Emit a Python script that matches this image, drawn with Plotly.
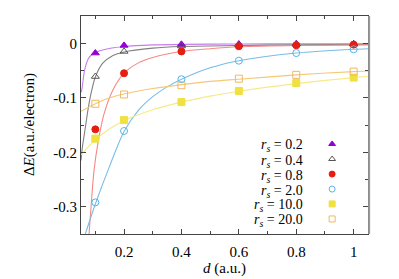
import plotly.graph_objects as go

# ---- data ----
d_points = [0.1, 0.2, 0.4, 0.6, 0.8, 1.0]
rs_labels = ["0.2", "0.4", "0.8", "2.0", "10.0", "20.0"]

dE_rs02 = [-0.018, -0.004, -0.002, -0.0015, -0.001, -0.001]
dE_rs04 = [-0.061, -0.015, -0.005, -0.003, -0.002, -0.002]
dE_rs08 = [-0.158, -0.055, -0.015, -0.0055, -0.0037, -0.0025]
dE_rs20 = [-0.292, -0.161, -0.066, -0.032, -0.018, -0.011]
dE_rs100 = [-0.175, -0.141, -0.108, -0.0875, -0.073, -0.063]
dE_rs200 = [-0.111, -0.094, -0.077, -0.065, -0.058, -0.052]

# fitted curves
fit02_d = [0.051, 0.055, 0.06, 0.065, 0.075, 0.085, 0.1, 0.136, 0.2, 0.3, 0.4, 0.6, 0.8, 1.05]
fit02_E = [-0.090, -0.078, -0.057, -0.044, -0.029, -0.022, -0.017, -0.011, -0.006, -0.003, -0.002, -0.0015, -0.001, -0.001]

fit04_d = [0.05, 0.055, 0.065, 0.075, 0.085, 0.1, 0.125, 0.16, 0.2, 0.3, 0.4, 0.6, 0.8, 1.05]
fit04_E = [-0.215, -0.19, -0.155, -0.12, -0.092, -0.062, -0.037, -0.023, -0.016, -0.009, -0.006, -0.004, -0.003, -0.002]

fit08_d = [0.078, 0.085, 0.095, 0.11, 0.13, 0.16, 0.2, 0.25, 0.3, 0.4, 0.5, 0.6, 0.8, 1.05]
fit08_E = [-0.35, -0.30, -0.235, -0.18, -0.13, -0.087, -0.055, -0.036, -0.026, -0.015, -0.010, -0.0065, -0.004, -0.003]

fit20_d = [0.065, 0.1, 0.15, 0.2, 0.25, 0.3, 0.35, 0.4, 0.5, 0.6, 0.8, 1.0, 1.05]
fit20_E = [-0.35, -0.295, -0.225, -0.162, -0.123, -0.098, -0.080, -0.066, -0.045, -0.032, -0.018, -0.011, -0.010]

fit100_d = [0.05, 0.075, 0.1, 0.15, 0.2, 0.3, 0.4, 0.5, 0.6, 0.8, 1.0, 1.05]
fit100_E = [-0.205, -0.19, -0.177, -0.157, -0.142, -0.122, -0.108, -0.097, -0.088, -0.074, -0.063, -0.061]

fit200_d = [0.05, 0.1, 0.15, 0.2, 0.3, 0.4, 0.5, 0.6, 0.8, 1.0, 1.05]
fit200_E = [-0.125, -0.111, -0.100, -0.093, -0.083, -0.076, -0.070, -0.066, -0.058, -0.052, -0.051]

x_ticks = [0.2, 0.4, 0.6, 0.8, 1.0]
x_ticktext = ["0.2", "0.4", "0.6", "0.8", "1"]
y_ticks = [0, -0.1, -0.2, -0.3]
y_ticktext = ["0", "-0.1", "-0.2", "-0.3"]

# legend sample positions (overlay axis, 0..1 across plot area)
leg_x = [0.875] * 6
leg_y = [0.413, 0.344, 0.275, 0.206, 0.138, 0.069]

series = [
    (fit02_d, fit02_E, dE_rs02, "#c77dea", "#9400d3", "triangle-up"),
    (fit04_d, fit04_E, dE_rs04, "#808080", "#555555", "triangle-up-open"),
    (fit08_d, fit08_E, dE_rs08, "#f48a84", "#e51e10", "circle"),
    (fit20_d, fit20_E, dE_rs20, "#77bde6", "#56b4e9", "circle-open"),
    (fit100_d, fit100_E, dE_rs100, "#f5ea8a", "#f0e040", "square"),
    (fit200_d, fit200_E, dE_rs200, "#f5c877", "#f0b860", "square-open"),
]

fig = go.Figure()
FONT = "Liberation Serif, Times New Roman, serif"

for fd, fe, pts, lc, mc, sym in series:
    fig.add_trace(go.Scatter(x=fd, y=fe, mode="lines",
                             line=dict(color=lc, width=1.1, shape="spline", smoothing=0.8),
                             showlegend=False, hoverinfo="skip"))
for fd, fe, pts, lc, mc, sym in series:
    fig.add_trace(go.Scatter(x=d_points, y=pts, mode="markers",
                             marker=dict(symbol=sym, size=7, color=mc,
                                         line=dict(color=mc, width=1)),
                             showlegend=False))

# legend markers and labels
for i, (fd, fe, pts, lc, mc, sym) in enumerate(series):
    fig.add_trace(go.Scatter(x=[leg_x[i]], y=[leg_y[i]], mode="markers",
                             xaxis="x2", yaxis="y2",
                             marker=dict(symbol=sym, size=6, color=mc,
                                         line=dict(color=mc, width=1)),
                             showlegend=False, hoverinfo="skip"))
    fig.add_annotation(x=0.78, y=leg_y[i], xref="x2", yref="y2",
                       text="<i>r</i><sub><i>s</i></sub> = " + rs_labels[i],
                       showarrow=False, xanchor="right", yanchor="middle",
                       yshift=-2,
                       font=dict(family=FONT, size=14, color="black"))

# axis titles as annotations
fig.add_annotation(x=-0.181, y=0.5, xref="paper", yref="paper",
                   text="Δ<i>E</i>(a.u./electron)", textangle=-90, showarrow=False,
                   xanchor="center", yanchor="middle",
                   font=dict(family=FONT, size=15, color="black"))
fig.add_annotation(x=0.5, y=-0.156, xref="paper", yref="paper",
                   text="<i>d</i> (a.u.)", showarrow=False,
                   xanchor="center", yanchor="middle",
                   font=dict(family=FONT, size=15, color="black"))

# grey right border as in the reference
fig.add_shape(type="line", xref="paper", yref="paper", x0=1.004, x1=1.004, y0=0, y1=1,
              line=dict(color="#999999", width=2))

fig.update_layout(
    width=391, height=271,
    margin=dict(l=73, r=31, t=8, b=45),
    paper_bgcolor="white", plot_bgcolor="white",
    font=dict(family=FONT, size=15, color="black"),
    xaxis=dict(range=[0.05, 1.05], tickvals=x_ticks, ticktext=x_ticktext, automargin=False,
               ticks="inside", ticklen=5, tickcolor="#444", showgrid=False, zeroline=False,
               showline=True, linecolor="#444", linewidth=1, mirror="allticks",
               minor=dict(ticks="inside", ticklen=3, dtick=0.1, tick0=0, tickcolor="#444", showgrid=False),
               ticklabelstandoff=4,
               tickfont=dict(family=FONT, size=15)),
    yaxis=dict(range=[-0.35, 0.05], tickvals=y_ticks, ticktext=y_ticktext, automargin=False,
               ticks="inside", ticklen=5, tickcolor="#444", showgrid=False, zeroline=False,
               showline=True, linecolor="#444", linewidth=1, mirror="allticks",
               minor=dict(ticks="inside", ticklen=3, dtick=0.05, tick0=0, tickcolor="#444", showgrid=False),
               tickfont=dict(family=FONT, size=15)),
    xaxis2=dict(overlaying="x", range=[0, 1], visible=False),
    yaxis2=dict(overlaying="y", range=[0, 1], visible=False),
)

fig.write_html("out.html")
